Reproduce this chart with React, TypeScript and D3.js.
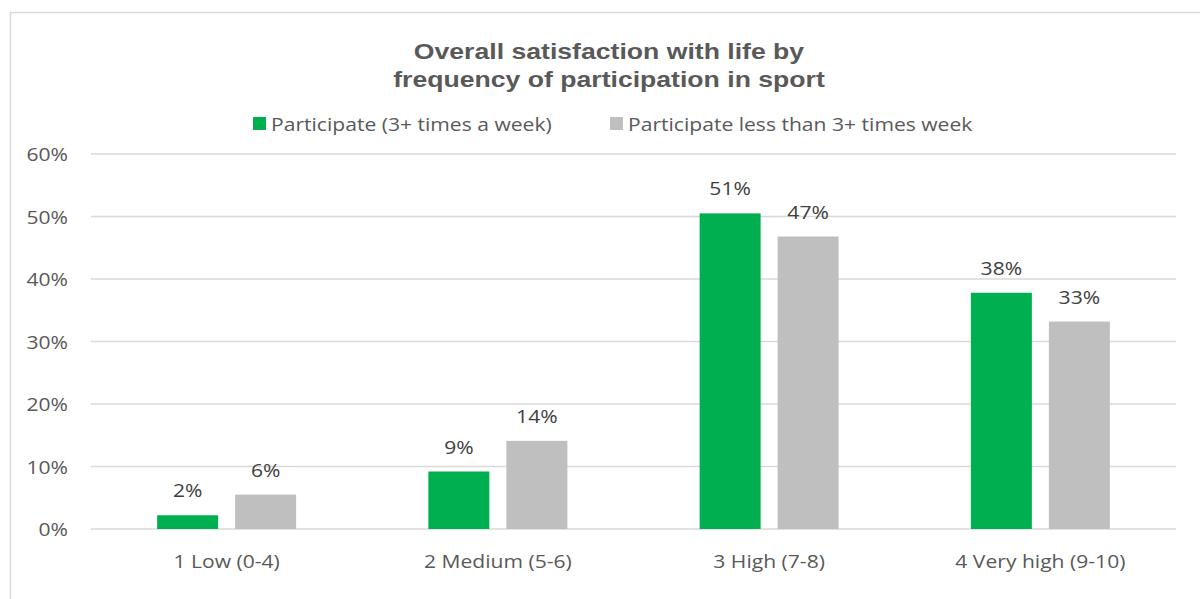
import React, { useEffect, useRef } from "react";
import * as d3 from "d3";

const categories = ["1 Low (0-4)", "2 Medium (5-6)", "3 High (7-8)", "4 Very high (9-10)"];
const seriesNames = ["Participate (3+ times a week)", "Participate less than 3+ times week"];
const participate3Plus = [2.2, 9.2, 50.5, 37.8];
const participateLess = [5.5, 14.1, 46.8, 33.2];
const yTicks = [0, 10, 20, 30, 40, 50, 60];
const titleLines = ["Overall satisfaction with life by", "frequency of participation in sport"];

const colors = ["#00b050", "#bfbfbf"];
const textColor = "#595959";
const font = "'Open Sans', sans-serif";
const fontSize = 18.5;
const stretch = 1.14; // the reference text is a bit wider than it is tall

const App = () => {
  const svgRef = useRef<SVGSVGElement>(null);

  useEffect(() => {
    const width = 1200;
    const height = 599;
    const margin = { top: 154, right: 24, bottom: 70, left: 91 };

    const svg = d3.select(svgRef.current);
    svg.selectAll("*").remove();

    svg.append("rect").attr("width", width).attr("height", height).attr("fill", "#fff");

    // chart border (runs off the right and bottom edges)
    svg.append("rect")
      .attr("x", 10.5).attr("y", 12.5)
      .attr("width", 1300).attr("height", 700)
      .attr("fill", "none").attr("stroke", "#d9d9d9").attr("stroke-width", 1.5);

    const y = d3.scaleLinear().domain([0, 60]).range([height - margin.bottom, margin.top]);
    const x0 = d3.scaleBand().domain(categories).range([margin.left, width - margin.right]);
    const bw = x0.bandwidth();
    const groupW = 139;
    const x1 = d3.scaleBand().domain(seriesNames)
      .range([(bw - groupW) / 2, (bw + groupW) / 2]).paddingInner(0.218);

    const place = (px: number, py: number, s = stretch) => `translate(${px},${py}) scale(${s},1)`;

    // title
    svg.append("g").selectAll("text").data(titleLines).enter().append("text")
      .attr("transform", (d, i) => place(609, 59 + i * 28, 1.21))
      .attr("text-anchor", "middle")
      .attr("font-family", "'Liberation Sans', Arial, sans-serif")
      .attr("font-weight", "bold").attr("font-size", 22)
      .attr("fill", textColor).text((d) => d);

    // legend
    const legendX = [253, 610];
    const legend = svg.append("g").selectAll("g").data(seriesNames).enter().append("g")
      .attr("transform", (d, i) => `translate(${legendX[i]},117)`);
    legend.append("rect").attr("width", 13).attr("height", 13).attr("fill", (d, i) => colors[i]);
    legend.append("text").attr("transform", place(18, 13.5))
      .attr("font-family", font).attr("font-size", fontSize).attr("fill", textColor)
      .text((d) => d);

    // gridlines
    svg.append("g").selectAll("line").data(yTicks).enter().append("line")
      .attr("x1", margin.left).attr("x2", width - margin.right)
      .attr("y1", (d) => y(d)).attr("y2", (d) => y(d))
      .attr("stroke", "#d9d9d9").attr("stroke-width", 1.5);

    // y tick labels
    svg.append("g").selectAll("text").data(yTicks).enter().append("text")
      .attr("transform", (d) => place(68, y(d) + 7))
      .attr("text-anchor", "end")
      .attr("font-family", font).attr("font-size", fontSize).attr("fill", textColor)
      .text((d) => `${d}%`);

    // category labels
    svg.append("g").selectAll("text").data(categories).enter().append("text")
      .attr("transform", (d) => place(x0(d)! + bw / 2, 568))
      .attr("text-anchor", "middle")
      .attr("font-family", font).attr("font-size", fontSize).attr("fill", textColor)
      .text((d) => d);

    const rows = categories.map((c, i) => ({
      category: c,
      values: [
        { series: seriesNames[0], value: participate3Plus[i], color: colors[0] },
        { series: seriesNames[1], value: participateLess[i], color: colors[1] },
      ],
    }));

    const groups = svg.append("g").selectAll("g").data(rows).enter().append("g")
      .attr("transform", (d) => `translate(${x0(d.category)},0)`);

    groups.selectAll("rect").data((d) => d.values).enter().append("rect")
      .attr("x", (d) => x1(d.series)!)
      .attr("width", x1.bandwidth())
      .attr("y", (d) => y(d.value))
      .attr("height", (d) => y(0) - y(d.value))
      .attr("fill", (d) => d.color);

    groups.selectAll("text").data((d) => d.values).enter().append("text")
      .attr("transform", (d) => place(x1(d.series)! + x1.bandwidth() / 2, y(d.value) - 18))
      .attr("text-anchor", "middle")
      .attr("font-family", font).attr("font-size", fontSize).attr("fill", "#404040")
      .text((d) => `${Math.round(d.value)}%`);
  }, []);

  return (
    <svg
      ref={svgRef}
      width={1200}
      height={599}
      style={{ position: "absolute", left: 0, top: 0, display: "block" }}
    />
  );
};

export default App;
